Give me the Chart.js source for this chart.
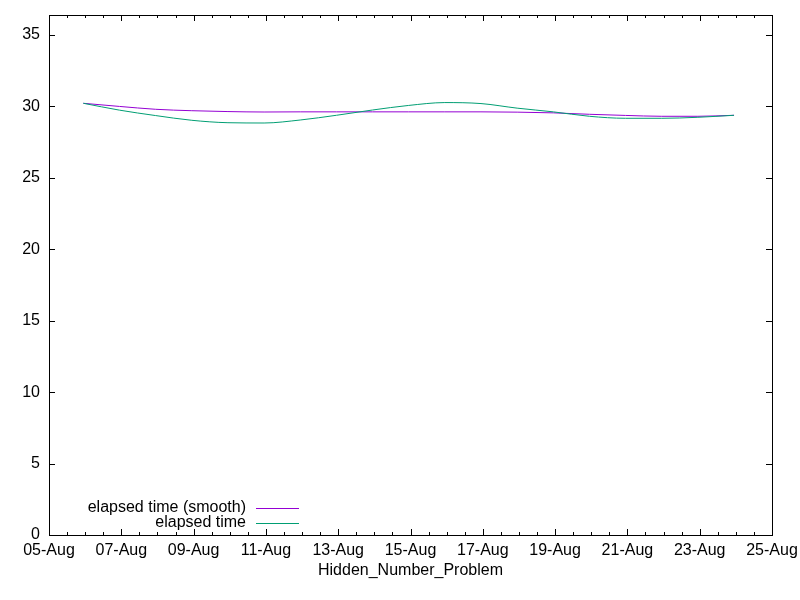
<!DOCTYPE html>
<html>
<head>
<meta charset="utf-8">
<script src="https://cdn.jsdelivr.net/npm/chart.js@4"></script>
<style>
  body { margin: 0; background: #fff; }
</style>
</head>
<body>
<canvas id="c" width="800" height="600"></canvas>
<script>
// days since 05-Aug (00:00)
const xDays = [0.95, 1.95, 2.95, 3.95, 4.95, 5.95, 6.95, 7.95, 8.95, 9.95,
               10.95, 11.95, 12.95, 13.95, 14.95, 15.95, 16.95, 17.95, 18.95];
const smoothVals = [30.22, 30.00, 29.80, 29.70, 29.64, 29.61, 29.62, 29.62, 29.62, 29.62,
                    29.62, 29.62, 29.60, 29.55, 29.45, 29.37, 29.31, 29.31, 29.38];
const elapsedVals = [30.22, 29.74, 29.36, 29.03, 28.86, 28.84, 29.05, 29.38, 29.75, 30.07,
                     30.27, 30.20, 29.88, 29.62, 29.31, 29.17, 29.17, 29.24, 29.38];
const xTickLabels = ['05-Aug', '07-Aug', '09-Aug', '11-Aug', '13-Aug', '15-Aug',
                     '17-Aug', '19-Aug', '21-Aug', '23-Aug', '25-Aug'];
const seriesNames = ['elapsed time (smooth)', 'elapsed time'];
const seriesColors = ['#9400d3', '#009e73'];

Chart.defaults.font.family = '"Liberation Sans", Arial, sans-serif';
Chart.defaults.font.size = 16;
Chart.defaults.color = '#000';

// gnuplot style frame: box, inward ticks on all sides, legend bottom-left
const framePlugin = {
  id: 'frame',
  afterDraw(chart) {
    const { ctx, chartArea: a, scales } = chart;
    ctx.save();
    ctx.strokeStyle = '#000';
    ctx.lineWidth = 1;
    ctx.strokeRect(Math.round(a.left) + 0.5, Math.round(a.top) + 0.5,
                   Math.round(a.right - a.left), Math.round(a.bottom - a.top));
    ctx.beginPath();
    const xs = scales.x;
    for (let v = xs.min; v <= xs.max + 1e-9; v += 0.5) {
      const px = Math.round(xs.getPixelForValue(v)) + 0.5;
      const len = (Math.abs(v / 2 - Math.round(v / 2)) < 1e-6) ? 6 : 3;
      ctx.moveTo(px, a.bottom); ctx.lineTo(px, a.bottom - len);
      ctx.moveTo(px, a.top); ctx.lineTo(px, a.top + len);
    }
    const ys = scales.y;
    ys.ticks.forEach(t => {
      const py = Math.round(ys.getPixelForValue(t.value)) + 0.5;
      ctx.moveTo(a.left, py); ctx.lineTo(a.left + 6, py);
      ctx.moveTo(a.right, py); ctx.lineTo(a.right - 6, py);
    });
    ctx.stroke();

    // legend
    ctx.font = '16px "Liberation Sans", Arial, sans-serif';
    ctx.textAlign = 'right';
    ctx.textBaseline = 'middle';
    chart.data.datasets.forEach((ds, i) => {
      const y = a.bottom - 27 + i * 15;
      ctx.fillStyle = '#000';
      ctx.fillText(ds.label, a.left + 197, y);
      ctx.strokeStyle = ds.borderColor;
      ctx.beginPath();
      ctx.moveTo(a.left + 207, Math.round(y) + 0.5);
      ctx.lineTo(a.left + 250, Math.round(y) + 0.5);
      ctx.stroke();
    });
    ctx.restore();
  }
};

new Chart(document.getElementById('c'), {
  type: 'line',
  data: {
    datasets: [
      { label: seriesNames[0], data: xDays.map((x, i) => ({ x, y: smoothVals[i] })),
        borderColor: seriesColors[0], order: 2 },
      { label: seriesNames[1], data: xDays.map((x, i) => ({ x, y: elapsedVals[i] })),
        borderColor: seriesColors[1], order: 1 }
    ]
  },
  options: {
    responsive: false,
    animation: false,
    devicePixelRatio: 1,
    layout: { padding: { top: 15, right: 28, left: 0, bottom: 20 } },
    elements: {
      line: { borderWidth: 1, tension: 0.4, cubicInterpolationMode: 'monotone' },
      point: { radius: 0 }
    },
    plugins: { legend: { display: false }, tooltip: { enabled: false } },
    scales: {
      x: {
        type: 'linear',
        min: 0, max: 20,
        grid: { display: false, drawTicks: false },
        border: { display: false },
        ticks: { stepSize: 2, padding: 6, maxRotation: 0, autoSkip: false,
                 callback: (v, i) => xTickLabels[i] },
        title: { display: true, text: 'Hidden_Number_Problem', padding: { top: 6, bottom: 0 } },
        afterFit(s) { s.height = 45; s.paddingLeft = 0; s.paddingRight = 0; }
      },
      y: {
        min: 0, max: 36.4,
        grid: { display: false, drawTicks: false },
        border: { display: false },
        ticks: { stepSize: 5, includeBounds: false, padding: 9 },
        afterFit(s) { s.width = 49; s.paddingTop = 0; s.paddingBottom = 0; }
      }
    }
  },
  plugins: [framePlugin]
});
</script>
</body>
</html>
